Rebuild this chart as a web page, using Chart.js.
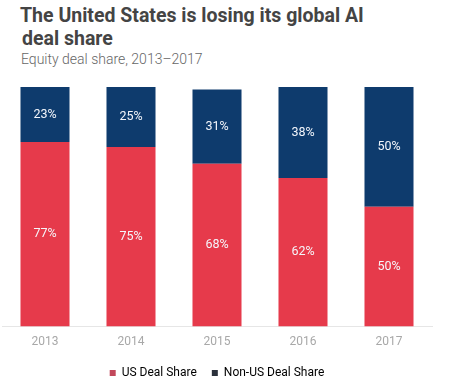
<!DOCTYPE html>
<html>
<head>
<meta charset="utf-8">
<script src="https://cdn.jsdelivr.net/npm/chart.js@4/dist/chart.umd.min.js"></script>
<style>
  html, body { margin: 0; padding: 0; background: #fff; }
  #wrap { position: relative; width: 453px; height: 389px; overflow: hidden; }
  #title { position: absolute; left: 20px; top: 4px; font-family: Roboto, sans-serif; font-weight: bold;
           font-size: 19.5px; line-height: 23px; color: #444; }
  #title .l2 { padding-left: 2px; }
  #sub { position: absolute; left: 21px; top: 51px; font-family: Roboto, sans-serif; font-weight: 300;
         font-size: 14px; color: #666; }
  #box { position: absolute; left: 0; top: 80px; width: 453px; height: 309px; }
</style>
</head>
<body>
<div id="wrap">
  <div id="title">The United States is losing its global AI<br><span class="l2">deal share</span></div>
  <div id="sub">Equity deal share, 2013–2017</div>
  <div id="box"><canvas id="myChart"></canvas></div>
</div>
<script>
var years = ['2013', '2014', '2015', '2016', '2017']
var usShare = [77, 75, 68, 62, 50]
var nonUsShare = [23, 25, 31, 38, 50]
var seriesNames = ['US Deal Share', 'Non-US Deal Share']
var barColors = ['#e63a4b', '#0e3b6d']
var legendColors = ['#c2485b', '#2b303b']

// writes the % value in the middle of every bar segment
var segmentLabels = {
    id: 'segmentLabels',
    afterDatasetsDraw: function(chart){
        var ctx = chart.ctx
        ctx.save()
        ctx.fillStyle = '#f4f6fb'
        ctx.font = '12.5px Roboto, sans-serif'
        ctx.textAlign = 'center'
        ctx.textBaseline = 'middle'
        chart.data.datasets.forEach(function(ds, i){
            chart.getDatasetMeta(i).data.forEach(function(bar, j){
                var mid = (bar.y + bar.base) / 2
                ctx.fillText(ds.data[j] + '%', bar.x, mid)
            })
        })
        ctx.restore()
    }
}

function setChart(){
    let ctx = document.getElementById('myChart').getContext('2d');
    let chart1 = new Chart(ctx, {
        type: 'bar',
        data: {
            labels: years,
            datasets: [{
                label: seriesNames[0],
                data: usShare,
                backgroundColor: barColors[0]
            }, {
                label: seriesNames[1],
                data: nonUsShare,
                backgroundColor: barColors[1]
            }]
        },
        options: {
            responsive: true,
            maintainAspectRatio: false,
            animation: false,
            layout: { padding: { left: 2, right: 21, top: 7, bottom: 0 } },
            datasets: { bar: { categoryPercentage: 1, barPercentage: 0.57 } },
            scales: {
                x: {
                    stacked: true,
                    grid: { display: false },
                    border: { display: true, color: '#e6e6e6' },
                    ticks: { color: '#a8a8a8', font: { family: 'Roboto', size: 12 }, padding: 0 },
                    afterFit: function(scale){ scale.height += 3 }
                },
                y: {
                    stacked: true,
                    display: false,
                    min: 0,
                    max: 100
                }
            },
            plugins: {
                legend: {
                    position: 'bottom',
                    labels: {
                        boxWidth: 6,
                        boxHeight: 6,
                        padding: 15,
                        color: '#9a9a9a',
                        font: { family: 'Roboto', size: 12 },
                        generateLabels: function(chart){
                            return seriesNames.map(function(n, i){
                                return { text: n, fillStyle: legendColors[i], strokeStyle: legendColors[i],
                                         lineWidth: 0, datasetIndex: i }
                            })
                        }
                    }
                },
                tooltip: { enabled: false }
            }
        },
        plugins: [segmentLabels]
    });
}
setChart()
</script>
</body>
</html>
